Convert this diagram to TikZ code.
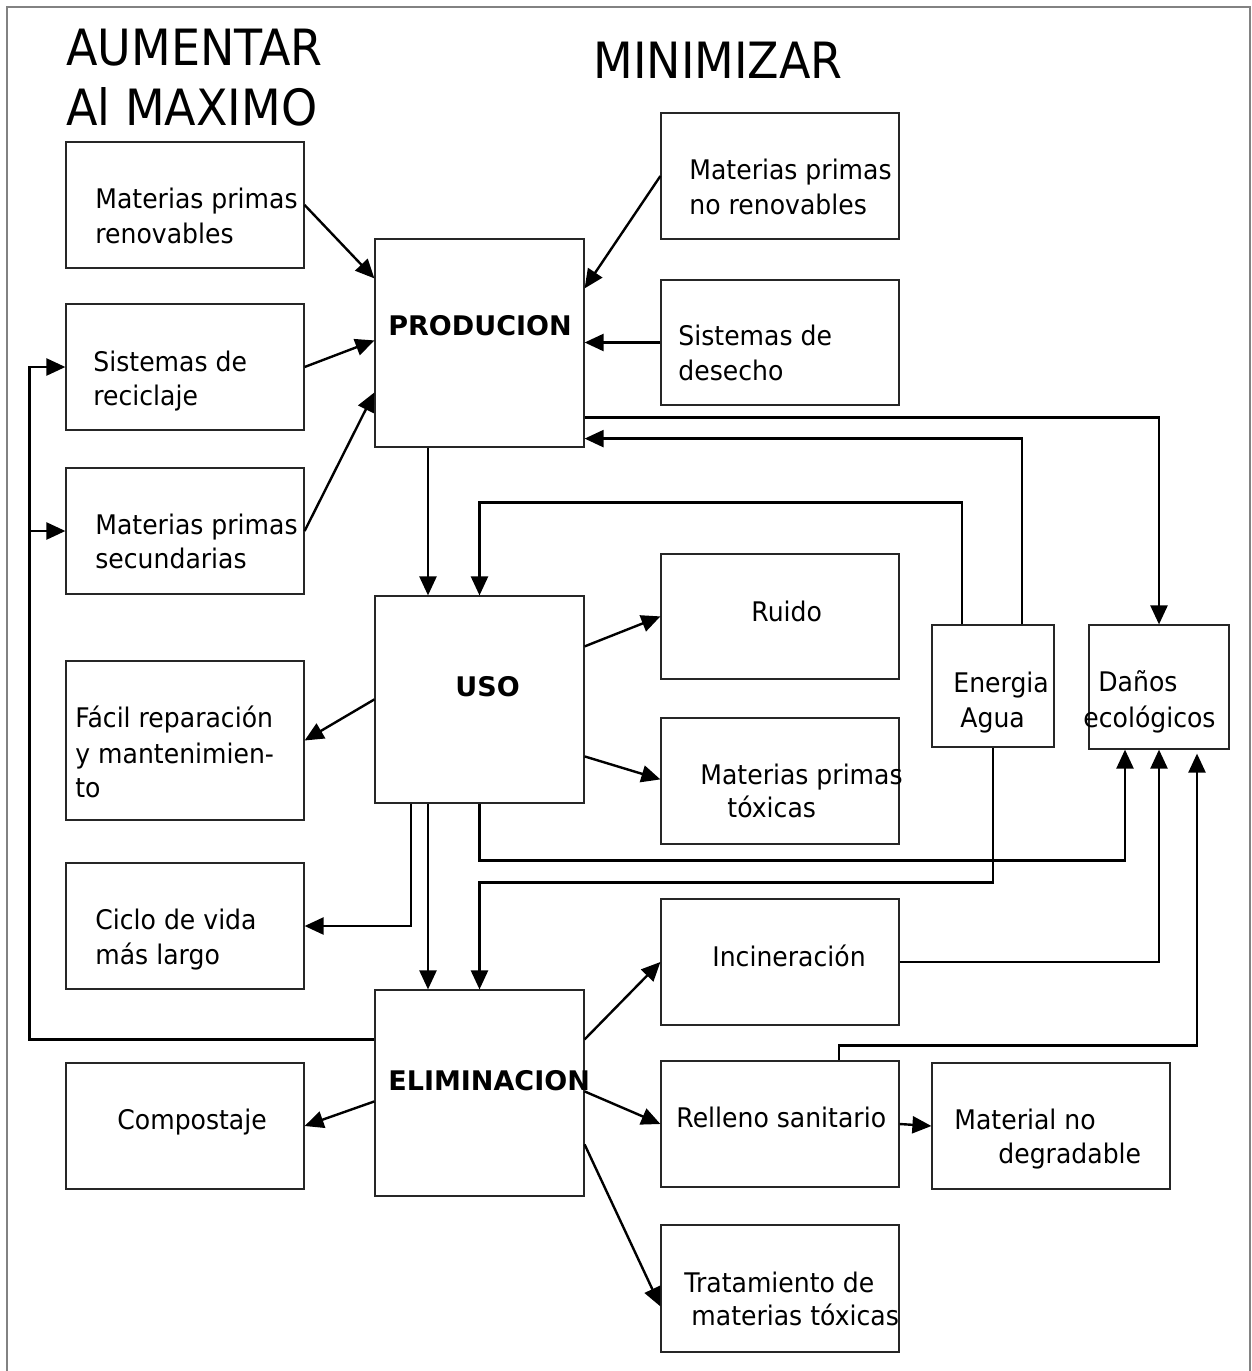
\documentclass[tikz,border=0pt]{standalone}
\usepackage{fontspec}
\setmainfont{DejaVu Sans}
\newfontfamily\titlefont{DejaVu Sans}[FakeStretch=0.92]
\newfontfamily\bodyfont{DejaVu Sans}[FakeStretch=0.93]
\usetikzlibrary{arrows.meta}
\definecolor{framegray}{RGB}{130,130,130}
\newcommand\bx[5]{\node[box, minimum width={(#4-#2)*0.5pt}, minimum height={(#5-#3)*0.5pt}] (#1) at ({(#2+#4)/2},{(#3+#5)/2}) {};}
\newcommand\tx[4][txt]{\node[#1] (#2) at (#3) {#4};}
\begin{document}
\begin{tikzpicture}[x=0.5pt, y=-0.5pt,
  box/.style={draw=black!85, line width=0.6pt, inner sep=0pt},
  txt/.style={inner sep=0pt, anchor=base west, font=\bodyfont\fontsize{13.5pt}{16pt}\selectfont},
  btxt/.style={inner sep=0pt, anchor=base west, font=\fontsize{13.5pt}{16pt}\selectfont\bfseries},
  ttl/.style={inner sep=0pt, anchor=base west, font=\titlefont\fontsize{25pt}{30pt}\selectfont},
  arr/.style={line width=1.2pt, -{Triangle[length=9.5pt,width=8.5pt]}}]
\useasboundingbox (0,0) rectangle (1252,1371);
\draw[framegray, line width=0.6pt] (7,1390) -- (7,7) -- (1250,7) -- (1250,1390);

% titles
\tx[ttl]{ti1}{66,65}{AUMENTAR}
\tx[ttl]{ti2}{66,125}{Al MAXIMO}
\tx[ttl]{ti3}{593,78}{MINIMIZAR}

% boxes
\bx{mpr}{66}{142}{304}{268}
\bx{sr}{66}{304}{304}{430}
\bx{mps}{66}{468}{304}{594}
\bx{fr}{66}{661}{304}{820}
\bx{cv}{66}{863}{304}{989}
\bx{co}{66}{1063}{304}{1189}
\bx{prod}{375}{239}{584}{447}
\bx{uso}{375}{596}{584}{803}
\bx{elim}{375}{990}{584}{1196}
\bx{mpnr}{661}{113}{899}{239}
\bx{sd}{661}{280}{899}{405}
\bx{ru}{661}{554}{899}{679}
\bx{mpt}{661}{718}{899}{844}
\bx{inc}{661}{899}{899}{1025}
\bx{rs}{661}{1061}{899}{1187}
\bx{tmt}{661}{1225}{899}{1352}
\bx{ea}{932}{625}{1054}{747}
\bx{de}{1089}{625}{1229}{749}
\bx{mnd}{932}{1063}{1170}{1189}

% texts
\tx{a1}{95,208}{Materias primas}
\tx{a2}{95,243}{renovables}
\tx{b1}{93,371}{Sistemas de}
\tx{b2}{93,405}{reciclaje}
\tx{c1t}{95,534}{Materias primas}
\tx{c2t}{95,568}{secundarias}
\tx{d1}{75,727}{Fácil reparación}
\tx{d2}{75,763}{y mantenimien-}
\tx{d3}{75,797}{to}
\tx{e1}{95,929}{Ciclo de vida}
\tx{e2}{95,964}{más largo}
\tx{f1}{117,1129}{Compostaje}
\tx[btxt]{g1}{388,335}{PRODUCION}
\tx[btxt]{g2}{455,696}{USO}
\tx[btxt]{g3}{388,1090}{ELIMINACION}
\tx{h1}{689,179}{Materias primas}
\tx{h2}{689,214}{no renovables}
\tx{i1}{678,345}{Sistemas de}
\tx{i2}{678,380}{desecho}
\tx{j1}{751,621}{Ruido}
\tx{k1}{700,784}{Materias primas}
\tx{k2}{727,817}{tóxicas}
\tx{l1}{712,966}{Incineración}
\tx{m1}{676,1127}{Relleno sanitario}
\tx{n1}{684,1292}{Tratamiento de}
\tx{n2}{691,1325}{materias tóxicas}
\tx{o1}{953,692}{Energia}
\tx{o2}{960,727}{Agua}
\tx{p1}{1098,691}{Daños}
\tx{p2}{1083,727}{ecológicos}
\tx{q1}{954,1129}{Material no}
\tx{q2}{998,1163}{degradable}

% connectors into PRODUCION
\draw[arr] (mpr.east) -- ([yshift=-20pt]prod.north west);
\draw[arr] (sr.east) -- ([yshift=-51pt]prod.north west);
\draw[arr] (mps.east) -- ([yshift=-77pt]prod.north west);
\draw[arr] (mpnr.west) -- ([yshift=-25pt]prod.north east);
\draw[arr] (sd.west) -- (sd.west -| prod.east);
\draw[arr] ([yshift=15pt]prod.south east) -| (de.north);
\draw[arr] ([xshift=14.5pt]ea.north) |- ([yshift=4.5pt]prod.south east);
\draw[arr] ([xshift=-15.5pt]ea.north) -- ++(0,-122) -| (uso.north);
\draw[arr] ([xshift=-25.75pt]prod.south) -- ([xshift=-25.75pt]uso.north);

% from USO
\draw[arr] ([yshift=-25.5pt]uso.north east) -- ([yshift=-31.5pt]ru.north west);
\draw[arr] ([yshift=-80.5pt]uso.north east) -- ([yshift=-31pt]mpt.north west);
\draw[arr] ([yshift=-52pt]uso.north west) -- (fr.east);
\draw[arr] ([xshift=-34.25pt]uso.south) |- (cv.east);
\draw[arr] ([xshift=-25.75pt]uso.south) -- ([xshift=-25.75pt]elim.north);
\draw[arr] (uso.south) -- ++(0,57) -| ([xshift=-17pt]de.south);
\draw[arr] (ea.south) -- ++(0,135) -| (elim.north);

% from ELIMINACION
\draw[arr] ([yshift=-25pt]elim.north west) -- ++(-345,0) coordinate (lc) |- (sr.west);
\draw[arr] (lc |- mps.west) -- (mps.west);
\draw[arr] ([yshift=-56pt]elim.north west) -- (co.east);
\draw[arr] ([yshift=-25pt]elim.north east) -- (inc.west);
\draw[arr] ([yshift=-51pt]elim.north east) -- (rs.west);
\draw[arr] ([yshift=-77.5pt]elim.north east) -- ([yshift=-41pt]tmt.north west);
\draw[arr] (rs.east) -- (mnd.west);
\draw[arr] (inc.east) -| (de.south);
\draw[arr] ([xshift=29.5pt]rs.north) -- ++(0,-15) -| ([xshift=19pt,yshift=-2pt]de.south);
\end{tikzpicture}
\end{document}
